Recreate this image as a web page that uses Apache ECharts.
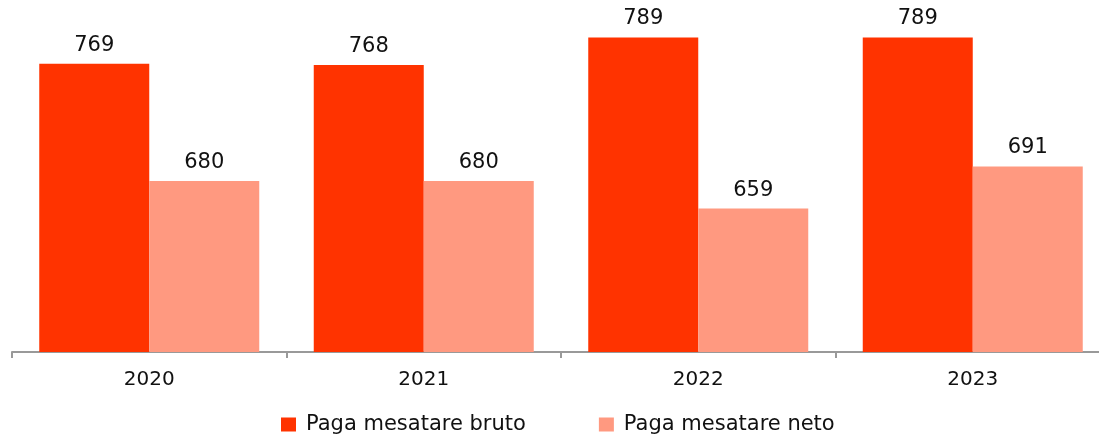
<!DOCTYPE html>
<html>
<head>
<meta charset="utf-8">
<script src="https://cdn.jsdelivr.net/npm/echarts@6/dist/echarts.min.js"></script>
<style>
  html, body { margin: 0; padding: 0; background: #fff; }
  #chart { width: 1099px; height: 434px; }
</style>
</head>
<body>
<div id="chart"></div>
<script>
const years = ['2020', '2021', '2022', '2023']
const bruto = [769, 768, 789, 789]
const neto = [680, 680, 659, 691]
const seriesNames = ['Paga mesatare bruto', 'Paga mesatare neto']

const chart = echarts.init(document.getElementById('chart'))

const labelStyle = {
  show: true,
  position: 'top',
  distance: 8,
  color: '#111',
  fontFamily: 'DejaVu Sans',
  fontSize: 21
}

chart.setOption({
  animation: false,
  grid: { left: 12, top: 23, width: 1098, height: 329, outerBoundsMode: 'none', containLabel: false },
  legend: {
    left: 276,
    top: 409,
    itemWidth: 15,
    itemHeight: 14,
    itemGap: 73,
    icon: 'rect',
    textStyle: { color: '#111', fontFamily: 'DejaVu Sans', fontSize: 21, padding: [0, 0, 0, 5] },
    data: seriesNames
  },
  xAxis: {
    type: 'category',
    data: years,
    axisLine: { lineStyle: { color: '#999', width: 2 } },
    axisTick: { show: true, alignWithLabel: false, length: 6, lineStyle: { color: '#999', width: 2 } },
    axisLabel: { margin: 18, color: '#111', fontFamily: 'DejaVu Sans', fontSize: 20 }
  },
  yAxis: {
    type: 'value',
    min: 550,
    max: 800,
    show: false,
    splitLine: { show: false }
  },
  series: [
    {
      name: seriesNames[0],
      type: 'bar',
      data: bruto,
      barWidth: 110,
      barGap: '0%',
      itemStyle: { color: '#ff3300' },
      label: labelStyle
    },
    {
      name: seriesNames[1],
      type: 'bar',
      data: neto,
      barWidth: 110,
      itemStyle: { color: '#ff9980' },
      label: labelStyle
    }
  ]
})
</script>
</body>
</html>
